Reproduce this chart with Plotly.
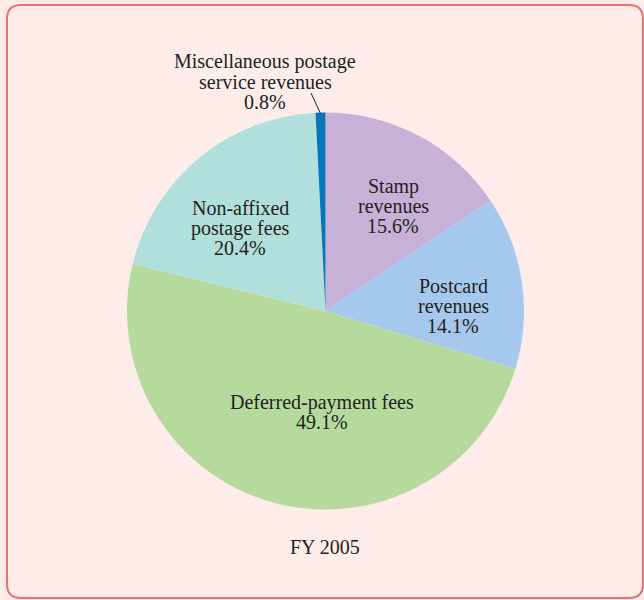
import math
import plotly.graph_objects as go

# Postage revenue breakdown, FY 2005 (share of total, %)
categories = [
    ["Stamp", "revenues"],
    ["Postcard", "revenues"],
    ["Deferred-payment fees"],
    ["Non-affixed", "postage fees"],
    ["Miscellaneous postage", "service revenues"],
]
shares = [15.6, 14.1, 49.1, 20.4, 0.8]
slice_colors = ["#c8b1d7", "#a4c9ec", "#b6da9e", "#b1dfdb", "#0a74b9"]
caption = "FY 2005"

W, H = 644, 600
BG = "#fdecea"
TEXT = "#231f20"
FONT = "Liberation Serif"
FONT_SIZE = 20
LINE_GAP = 20  # pixels between label lines

# pie geometry in pixels
cx, cy, r = 325.5, 311.0, 198.5


def px(x):
    return x / W


def py(y):
    return 1 - y / H


fig = go.Figure(
    go.Pie(
        values=shares,
        labels=[" ".join(c) for c in categories],
        marker=dict(colors=slice_colors, line=dict(width=0)),
        sort=False,
        direction="clockwise",
        rotation=0,
        textinfo="none",
        hoverinfo="label+value",
        showlegend=False,
        domain=dict(x=[px(cx - r), px(cx + r)], y=[py(cy + r), py(cy - r)]),
    )
)


def add_text_block(lines, x, y_center):
    n = len(lines)
    for i, line in enumerate(lines):
        ly = y_center + (i - (n - 1) / 2) * LINE_GAP
        fig.add_annotation(
            x=px(x), y=py(ly), xref="paper", yref="paper",
            text=line, showarrow=False,
            xanchor="center", yanchor="middle",
            font=dict(family=FONT, size=FONT_SIZE, color=TEXT),
        )


# label anchor points (pixels) for each slice
label_pos = [(393, 206), (453, 306), (322, 412), (240, 228), (265, 82)]

for cat, val, (lx, ly) in zip(categories, shares, label_pos):
    add_text_block(cat + [f"{val:.1f}%"], lx, ly)

# leader line to the thin miscellaneous slice, ending at its mid angle on the rim
total = sum(shares)
start = sum(shares[:-1]) / total * 360
mid = math.radians(start + shares[-1] / total * 360 / 2)
ex, ey = cx + r * math.sin(mid), cy - r * math.cos(mid)
fig.add_shape(
    type="line", xref="paper", yref="paper",
    x0=px(311), y0=py(93), x1=px(ex), y1=py(ey + 1),
    line=dict(color=TEXT, width=1),
)

add_text_block([caption], 325, 547)

# rounded frame
L, T, R, B, k = 7, 5, 643, 598, 14
path = (
    f"M {px(L + k)} {py(T)} L {px(R - k)} {py(T)} "
    f"Q {px(R)} {py(T)} {px(R)} {py(T + k)} "
    f"L {px(R)} {py(B - k)} Q {px(R)} {py(B)} {px(R - k)} {py(B)} "
    f"L {px(L + k)} {py(B)} Q {px(L)} {py(B)} {px(L)} {py(B - k)} "
    f"L {px(L)} {py(T + k)} Q {px(L)} {py(T)} {px(L + k)} {py(T)} Z"
)
fig.add_shape(
    type="path", path=path, xref="paper", yref="paper",
    line=dict(color="#ee7070", width=2), layer="below",
)

fig.update_layout(
    width=W, height=H,
    margin=dict(l=0, r=0, t=0, b=0),
    paper_bgcolor=BG, plot_bgcolor=BG,
)

fig.write_html("out.html")
